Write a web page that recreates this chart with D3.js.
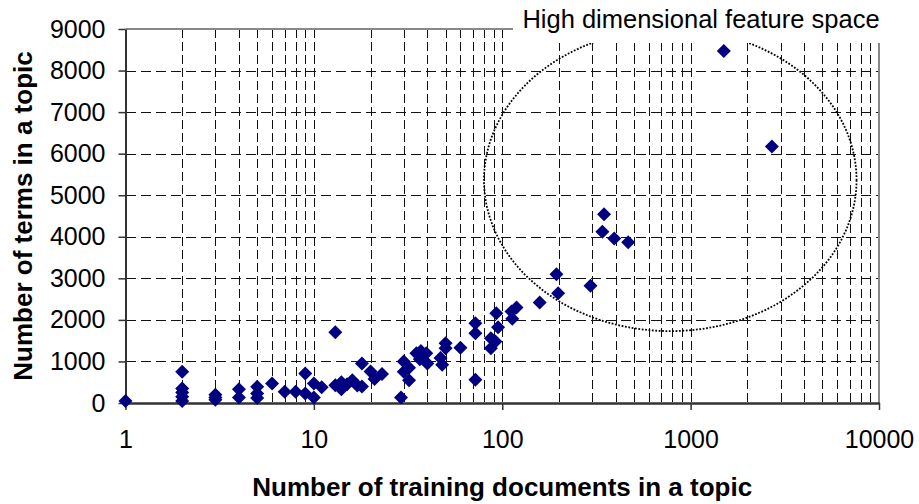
<!DOCTYPE html>
<html>
<head>
<meta charset="utf-8">
<script src="https://cdn.jsdelivr.net/npm/d3@7/dist/d3.min.js"></script>
<style>
  html, body { margin: 0; padding: 0; background: #fff; }
  svg { display: block; }
  text { font-family: Arial, "Liberation Sans", sans-serif; fill: #000; }
</style>
</head>
<body>
<svg id="chart" width="919" height="504"></svg>
<script>
// Training documents per topic (x) and distinct terms per topic (y)
const docs = [
  1,
  2, 2, 2, 2, 2,
  3, 3, 3,
  4, 4,
  5, 5, 5,
  6, 7, 8,
  9, 9,
  10, 10, 11,
  13, 13, 14, 14, 15, 16, 17, 18, 18,
  20, 21, 23,
  29, 30, 30, 32, 32,
  35, 36.5, 37, 39.5, 40,
  47, 48, 50, 50, 60,
  72, 72, 72,
  87, 87, 92, 95, 93,
  112, 113, 119,
  158, 194, 198, 294,
  340, 347, 393, 466,
  1500, 2700
];
const terms = [
  50,
  750, 350, 250, 150, 50,
  200, 130, 80,
  330, 130,
  390, 230, 120,
  470, 270, 270,
  710, 230,
  470, 130, 380,
  1700, 430, 330, 500, 450, 550, 420, 400, 950,
  760, 580, 700,
  130, 1000, 750, 850, 550,
  1200, 1050, 1250, 1200, 950,
  1080, 920, 1440, 1320, 1330,
  560, 1680, 1920,
  1560, 1320, 1480, 1820, 2160,
  2200, 2030, 2300,
  2420, 3100, 2640, 2820,
  4120, 4540, 3960, 3870,
  8470, 6170
];
const xTickValues = [1, 10, 100, 1000, 10000];
const yTickValues = [0, 1000, 2000, 3000, 4000, 5000, 6000, 7000, 8000, 9000];

// Annotated region, in data units: [xMin, xMax] on the log axis, [yMin, yMax]
const regionX = [80, 7600];
const regionY = [1730, 9000];
const regionLabel = "High dimensional feature space";

const xTitle = "Number of training documents in a topic";
const yTitle = "Number of terms in a topic";

const svg = d3.select("#chart");
const plot = { left: 125.5, right: 879, top: 29, bottom: 403 };

const x = d3.scaleLog().domain([1, 10000]).range([plot.left, plot.right]);
const y = d3.scaleLinear().domain([0, 9000]).range([plot.bottom, plot.top]);

// Gridlines: every log step vertically, every 1000 horizontally
const minorX = [];
for (let p = 0; p < 4; p++) {
  for (let m = 1; m < 10; m++) {
    const v = m * Math.pow(10, p);
    if (v > 1 && v < 10000) minorX.push(v);
  }
}
const grid = svg.append("g").attr("shape-rendering", "crispEdges");
grid.selectAll("line.v").data(minorX).join("line")
  .attr("class", "v")
  .attr("x1", d => Math.round(x(d)) + 0.5).attr("x2", d => Math.round(x(d)) + 0.5)
  .attr("y1", plot.top).attr("y2", plot.bottom)
  .attr("stroke", "#111").attr("stroke-width", 1)
  .attr("stroke-dasharray", "9,4");
grid.selectAll("line.h").data(yTickValues.filter(v => v > 0 && v < 9000)).join("line")
  .attr("class", "h")
  .attr("x1", plot.left).attr("x2", plot.right)
  .attr("y1", d => Math.round(y(d)) + 0.5).attr("y2", d => Math.round(y(d)) + 0.5)
  .attr("stroke", "#111").attr("stroke-width", 1)
  .attr("stroke-dasharray", "10,5");

// Plot-area border on the top and right
svg.append("line")
  .attr("x1", plot.left).attr("x2", plot.right)
  .attr("y1", plot.top).attr("y2", plot.top)
  .attr("stroke", "#888").attr("stroke-width", 2);
svg.append("line")
  .attr("x1", plot.right).attr("x2", plot.right)
  .attr("y1", plot.top).attr("y2", plot.bottom)
  .attr("stroke", "#888").attr("stroke-width", 2);

// Dotted ellipse around the high-dimensional topics
const ex0 = x(regionX[0]), ex1 = x(regionX[1]);
const ey0 = y(regionY[1]), ey1 = y(regionY[0]);
svg.append("ellipse")
  .attr("cx", (ex0 + ex1) / 2).attr("cy", (ey0 + ey1) / 2)
  .attr("rx", (ex1 - ex0) / 2).attr("ry", (ey1 - ey0) / 2)
  .attr("fill", "none").attr("stroke", "#000")
  .attr("stroke-width", 1.8).attr("stroke-dasharray", "1.8,1.6");

// Axes
const xAxis = d3.axisBottom(x)
  .tickValues(xTickValues)
  .tickFormat(d3.format("d"))
  .tickSize(7).tickSizeOuter(0).tickPadding(20);
const gx = svg.append("g").attr("transform", `translate(0,${plot.bottom})`).call(xAxis);
gx.select(".domain").attr("stroke", "#333").attr("stroke-width", 2.5);
gx.selectAll(".tick line").attr("stroke", "#333").attr("stroke-width", 1.5);
gx.selectAll(".tick text").attr("font-size", 25)
  .style("font-family", "Arial, 'Liberation Sans', sans-serif");

const yAxis = d3.axisLeft(y)
  .tickValues(yTickValues)
  .tickFormat(d3.format("d"))
  .tickSize(7).tickSizeOuter(0).tickPadding(13);
const gy = svg.append("g").attr("transform", `translate(${plot.left},0)`).call(yAxis);
gy.select(".domain").attr("stroke", "#333").attr("stroke-width", 2);
gy.selectAll(".tick line").attr("stroke", "#333").attr("stroke-width", 1.5);
gy.selectAll(".tick text").attr("font-size", 25)
  .style("font-family", "Arial, 'Liberation Sans', sans-serif");

// Points as navy diamonds
const diamond = d3.symbol().type(d3.symbolSquare).size(98);
svg.append("g").selectAll("path").data(docs.map((d, i) => [d, terms[i]])).join("path")
  .attr("d", diamond)
  .attr("transform", d => `translate(${x(d[0])},${y(d[1])}) rotate(45)`)
  .attr("fill", "#000080");

// Region label on a white backing
svg.append("rect")
  .attr("x", 513).attr("y", 0).attr("width", 406).attr("height", 43)
  .attr("fill", "#fff");
svg.append("text")
  .attr("x", 701).attr("y", 28)
  .attr("text-anchor", "middle").attr("font-size", 25.5)
  .text(regionLabel);

// Axis titles
svg.append("text")
  .attr("x", (plot.left + plot.right) / 2).attr("y", 496)
  .attr("text-anchor", "middle").attr("font-size", 26).attr("font-weight", "bold")
  .text(xTitle);
svg.append("text")
  .attr("transform", `translate(32,${(plot.top + plot.bottom) / 2}) rotate(-90)`)
  .attr("text-anchor", "middle").attr("font-size", 26).attr("font-weight", "bold")
  .text(yTitle);
</script>
</body>
</html>
